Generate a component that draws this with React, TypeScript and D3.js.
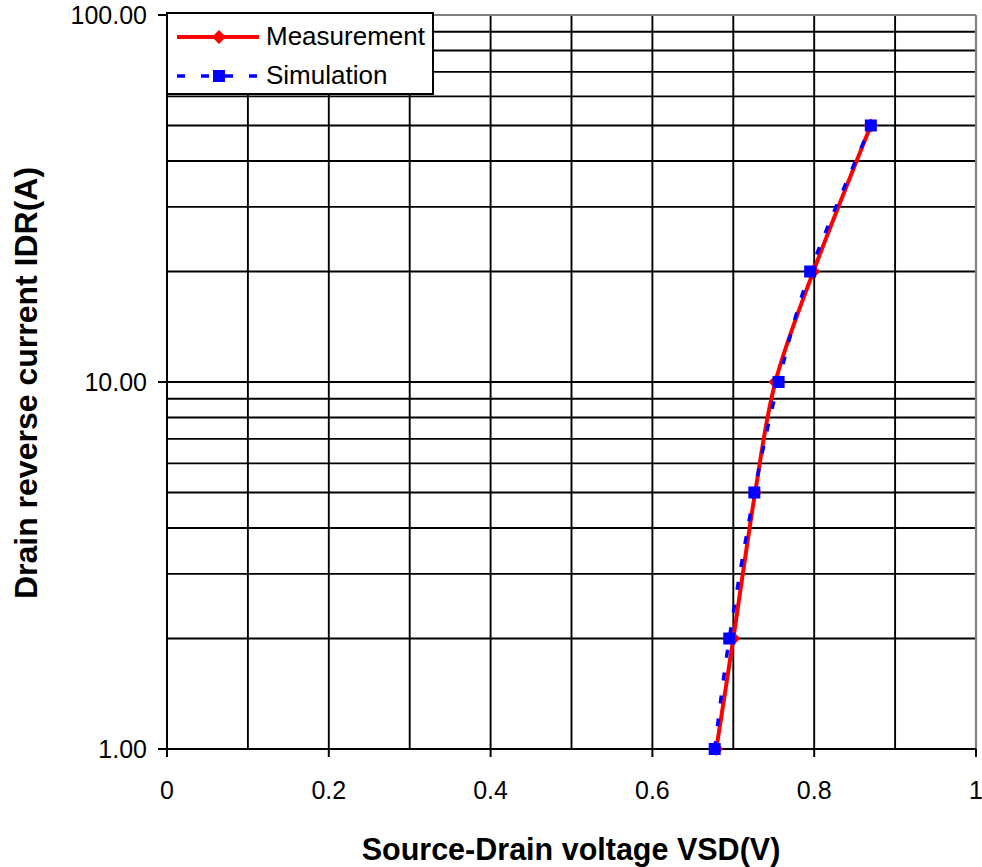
import React from "react";
import * as d3 from "d3";

const measVoltage = [0.679, 0.700, 0.727, 0.752, 0.799, 0.870];
const measCurrent = [1, 2, 5, 10, 20, 50];
const simVoltage = [0.677, 0.695, 0.726, 0.756, 0.795, 0.870];
const simCurrent = [1, 2, 5, 10, 20, 50];

const xTickLabels = [0, 0.2, 0.4, 0.6, 0.8, 1];
const xGridValues = [0.1, 0.2, 0.3, 0.4, 0.5, 0.6, 0.7, 0.8, 0.9];
const yMajorTicks = [1, 10, 100];
const yGridValues = [2, 3, 4, 5, 6, 7, 8, 9, 10, 20, 30, 40, 50, 60, 70, 80, 90];

const seriesNames = ["Measurement", "Simulation"];

const FONT = "'Liberation Sans', Arial, Helvetica, sans-serif";

export default function App() {
  const W = 982, H = 867;
  const left = 167, right = 976, top = 15, bottom = 749;
  const x = d3.scaleLinear().domain([0, 1]).range([left, right]);
  const y = d3.scaleLog().domain([1, 100]).range([bottom, top]);

  const line = d3
    .line<[number, number]>()
    .x((d) => x(d[0]))
    .y((d) => y(d[1]))
    .curve(d3.curveCardinal.tension(0));

  const meas: [number, number][] = measVoltage.map((v, i) => [v, measCurrent[i]]);
  const sim: [number, number][] = simVoltage.map((v, i) => [v, simCurrent[i]]);

  const diamond = (cx: number, cy: number, r: number) =>
    `M${cx},${cy - r}L${cx + r},${cy}L${cx},${cy + r}L${cx - r},${cy}Z`;

  const legX = 167, legY = 13, legW = 266, legH = 81;
  const sq = 12;

  return (
    <svg
      width={W}
      height={H}
      style={{ position: "absolute", left: 0, top: 0, background: "#fff" }}
      fontFamily={FONT}
    >
      <rect x={0} y={0} width={W} height={H} fill="#fff" />
      {/* gridlines */}
      {xGridValues.map((v) => (
        <line key={"gx" + v} x1={x(v)} x2={x(v)} y1={top} y2={bottom} stroke="#000" strokeWidth={1.9} />
      ))}
      {yGridValues.map((v) => (
        <line key={"gy" + v} x1={left} x2={right} y1={y(v)} y2={y(v)} stroke="#000" strokeWidth={1.9} />
      ))}
      {/* plot border (gray) */}
      <line x1={left} x2={right} y1={top} y2={top} stroke="#808080" strokeWidth={2.2} />
      <line x1={right} x2={right} y1={top} y2={bottom} stroke="#808080" strokeWidth={2.2} />
      {/* axes */}
      <line x1={left} x2={left} y1={top} y2={bottom} stroke="#000" strokeWidth={2} />
      <line x1={left} x2={right} y1={bottom} y2={bottom} stroke="#000" strokeWidth={2} />
      {/* x ticks */}
      {xTickLabels.map((v) => (
        <g key={"xt" + v}>
          <line x1={x(v)} x2={x(v)} y1={bottom} y2={bottom + 8} stroke="#000" strokeWidth={2} />
          <text x={x(v)} y={799} fontSize={25} textAnchor="middle" fill="#000">
            {String(v)}
          </text>
        </g>
      ))}
      {/* y ticks */}
      {yMajorTicks.map((v) => (
        <g key={"yt" + v}>
          <line x1={left - 9} x2={left} y1={y(v)} y2={y(v)} stroke="#000" strokeWidth={2} />
          <text x={147} y={y(v) + 9} fontSize={25} textAnchor="end" fill="#000">
            {v.toFixed(2)}
          </text>
        </g>
      ))}
      {/* series */}
      <path d={line(meas) || ""} fill="none" stroke="#ff0000" strokeWidth={4} />
      {meas.map((d, i) => (
        <path key={"md" + i} d={diamond(x(d[0]), y(d[1]), 7)} fill="#ff0000" />
      ))}
      <path d={line(sim) || ""} fill="none" stroke="#0000ff" strokeWidth={3.5} strokeDasharray="8 15" />
      {sim.map((d, i) => (
        <rect key={"ss" + i} x={x(d[0]) - sq / 2} y={y(d[1]) - sq / 2} width={sq} height={sq} fill="#0000ff" />
      ))}
      {/* legend */}
      <rect x={legX} y={legY} width={legW} height={legH} fill="#fff" stroke="#000" strokeWidth={2} />
      <line x1={177} x2={259} y1={37} y2={37} stroke="#ff0000" strokeWidth={4} />
      <path d={diamond(219, 37, 7)} fill="#ff0000" />
      <text x={266} y={45} fontSize={26} fill="#000">
        {seriesNames[0]}
      </text>
      <line x1={177} x2={259} y1={76} y2={76} stroke="#0000ff" strokeWidth={3.5} strokeDasharray="8 16" />
      <rect x={213} y={70} width={sq} height={sq} fill="#0000ff" />
      <text x={266} y={84} fontSize={26} fill="#000">
        {seriesNames[1]}
      </text>
      {/* axis titles */}
      <text x={571} y={860} fontSize={30.5} fontWeight="bold" textAnchor="middle" fill="#000">
        Source-Drain voltage VSD(V)
      </text>
      <text
        transform={`translate(37,383) rotate(-90)`}
        fontSize={32}
        fontWeight="bold"
        textAnchor="middle"
        fill="#000"
      >
        Drain reverse current IDR(A)
      </text>
    </svg>
  );
}
